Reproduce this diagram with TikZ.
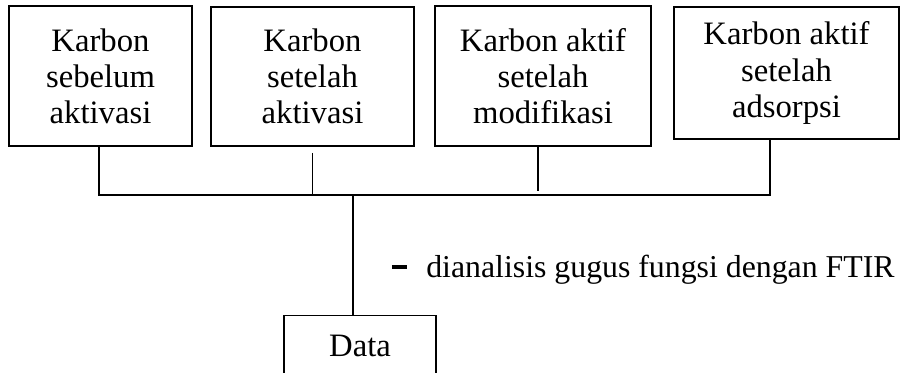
\documentclass[tikz,border=0pt]{standalone}
\usepackage{fontspec}
\setmainfont{Liberation Serif}
\begin{document}
\begin{tikzpicture}[line width=1.1pt]
\fontsize{18.6}{20.5}\selectfont
\tikzset{kotak/.style={draw, align=center, inner sep=0pt}}
\useasboundingbox (0,0) rectangle (18.08,7.46);
\clip (0,0) rectangle (18.08,7.46);
\node[kotak, minimum width=3.66cm, minimum height=2.80cm] (k1) at (2.01,5.94) {Karbon\\sebelum\\aktivasi};
\node[kotak, minimum width=4.06cm, minimum height=2.78cm] (k2) at (6.25,5.93) {Karbon\\setelah\\aktivasi};
\node[kotak, minimum width=4.32cm, minimum height=2.80cm] (k3) at (10.86,5.94) {Karbon aktif\\setelah\\modifikasi};
\node[kotak, minimum width=4.50cm, minimum height=2.64cm] (k4) at (15.73,6.00) {Karbon aktif\\setelah\\adsorpsi};
\node[kotak, minimum width=3.04cm, minimum height=1.20cm] (data) at (7.20,0.55) {Data};
\coordinate (kiri) at (1.98,3.56);
\coordinate (kanan) at (15.40,3.56);
\coordinate (tengah) at (7.06,3.56);
\draw (kiri |- k1.south) -- (kiri) -- (kanan) -- (kanan |- k4.south);
\draw ([yshift=-0.12cm]k2.south) -- (k2.south |- kiri);
\draw ([xshift=-0.1cm]k3.south) -- ([xshift=-0.1cm,yshift=-0.88cm]k3.south);
\draw (tengah) -- (tengah |- data.north);
\node[anchor=base west, inner sep=0pt, font=\fontsize{18.1}{20.5}\selectfont] (ket) at (7.82,1.90) {\rule[0.29em]{0.46em}{0.11em}\hspace{0.62em}dianalisis gugus fungsi dengan FTIR};
\end{tikzpicture}
\end{document}
